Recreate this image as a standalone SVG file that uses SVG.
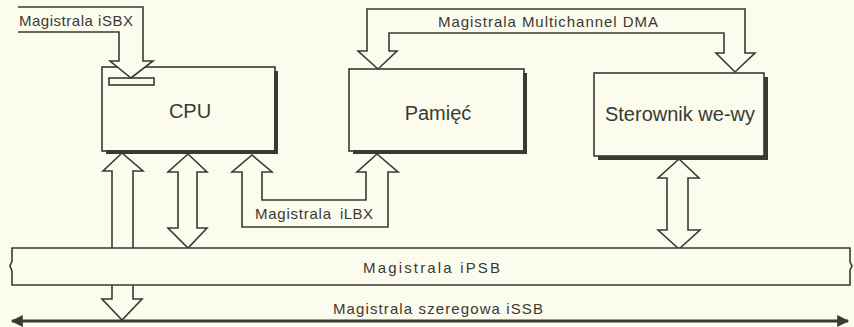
<svg xmlns="http://www.w3.org/2000/svg" width="854" height="327" viewBox="0 0 854 327">
<defs>
<style>
.bg{fill:#fbfbee}
.ar{fill:#fbfbee;stroke:#3a3a34;stroke-width:1.6;stroke-linejoin:miter}
.box{fill:#fbfbee;stroke:#3a3a34;stroke-width:1.6}
.sh{fill:none;stroke:#3a3a34;stroke-width:4}
.nt{font-family:"Liberation Sans",Arial,sans-serif;font-size:20px;fill:#3a3a34;text-anchor:middle}
.lt{font-family:"Liberation Sans",Arial,sans-serif;font-size:15px;fill:#3a3a34}
</style>
<marker id="ah" viewBox="0 0 10 10" refX="9" refY="5" markerWidth="5" markerHeight="4" orient="auto-start-reverse" markerUnits="strokeWidth">
<path d="M0,0 L10,5 L0,10 Z" fill="#3a3a34"/>
</marker>
</defs>
<rect class="bg" x="0" y="0" width="854" height="327"/>

<g id="cpu">
<rect class="box" x="102" y="67" width="173" height="84"/>
<polyline class="sh" points="276,71 276,152 106,152"/>
<rect class="box" x="109" y="78" width="45" height="7"/>
<text class="nt" x="190" y="118">CPU</text>
</g>

<g id="pamiec">
<rect class="box" x="349" y="69" width="175" height="82"/>
<polyline class="sh" points="525,73 525,152 353,152"/>
<text class="nt" x="438" y="120">Pamięć</text>
</g>

<g id="sterownik">
<rect class="box" x="594" y="73" width="170" height="83"/>
<polyline class="sh" points="766,77 766,158 598,158"/>
<text class="nt" x="680" y="121">Sterownik we-wy</text>
</g>

<g id="connectors">
<!-- iSBX -->
<path class="ar" d="M18,7 H143 V61 H153 L131,78 L110,61 H119 V32 H18"/>
<text class="lt" x="19" y="26" textLength="114">Magistrala iSBX</text>
<!-- Multichannel DMA -->
<path class="ar" d="M367,51 V9 H745 V53 H755 L735,72 L716,53 H724 V33 H389 V51 H397 L378,69 L358,51 Z"/>
<text class="lt" x="438" y="27" textLength="220">Magistrala Multichannel DMA</text>
<!-- iLBX -->
<path class="ar" d="M242,172 H232 L252,155 L272,172 H262 V200 H366 V172 H357 L377,154 L398,172 H388 V227 H242 Z"/>
<text class="lt" y="219"><tspan x="255" textLength="76">Magistrala</tspan><tspan x="340" textLength="33">iLBX</tspan></text>
<!-- CPU to iSSB -->
<path class="ar" d="M112,171 H103 L122,153 L143,171 H133 V299 H142 L122,320 L102,299 H112 Z"/>
<!-- CPU to iPSB -->
<path class="ar" d="M178,172 H168 L188,154 L207,172 H197 V228 H207 L188,248 L168,228 H178 Z"/>
<!-- Sterownik to iPSB -->
<path class="ar" d="M667,178 H658 L679,159 L699,178 H688 V230 H700 L679,249 L658,230 H667 Z"/>
</g>

<g id="iPSB">
<path class="box" d="M12,248 H850 V262 L852,266 L850,270 V285 H12 V271 L10,266 L12,261 Z"/>
<text class="lt" x="363" y="273" textLength="137">Magistrala iPSB</text>
</g>

<g id="iSSB">
<line x1="12" y1="321" x2="848" y2="321" stroke="#3a3a34" stroke-width="3" marker-start="url(#ah)" marker-end="url(#ah)"/>
<text class="lt" x="333" y="314" textLength="210">Magistrala szeregowa iSSB</text>
</g>
</svg>
